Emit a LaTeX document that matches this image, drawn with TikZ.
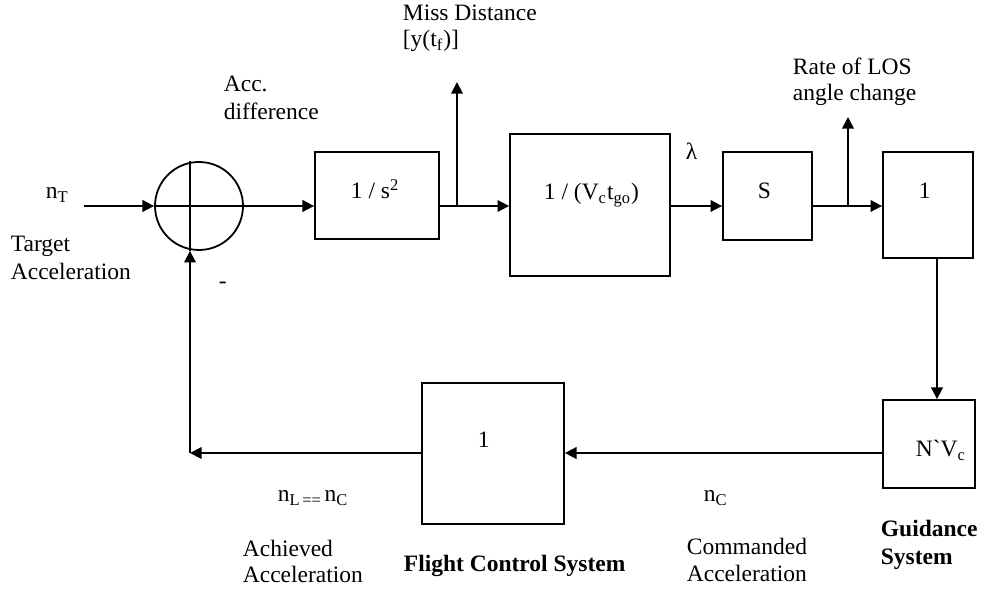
\documentclass[tikz,border=0pt]{standalone}
\usepackage{fontspec}
\setmainfont{Liberation Serif}
\usetikzlibrary{arrows.meta}
\begin{document}
\begin{tikzpicture}[x=0.5bp,y=-0.5bp,
  line width=0.9bp,
  every node/.style={font=\fontsize{11.75bp}{14bp}\selectfont},
  blk/.style={draw,rectangle,inner sep=0pt},
  txt/.style={inner sep=0pt,anchor=base west},
  arr/.style={-{Triangle[length=5.8bp,width=5.8bp]}},
  bold/.style={font=\fontsize{11.75bp}{14bp}\selectfont\bfseries}]
\useasboundingbox (0,0) rectangle (1005,592);
% blocks
\node[draw,circle,minimum size=44bp,inner sep=0pt] (s) at (199,206) {};
\node[blk,minimum width=62bp,minimum height=43.5bp] (b1) at (377,195.5) {};
\node[blk,minimum width=80bp,minimum height=71bp] (b2) at (590,205) {};
\node[blk,minimum width=44.5bp,minimum height=44bp] (bs) at (767.5,196) {};
\node[blk,minimum width=45bp,minimum height=53bp] (bo) at (928,205) {};
\node[blk,minimum width=46bp,minimum height=44bp] (bn) at (929,444) {};
\node[blk,minimum width=71bp,minimum height=70.5bp] (bf) at (493,453.5) {};
% coordinates
\coordinate (in) at (84,206);
\coordinate (m1) at (457,206);
\coordinate (m1t) at (457,82);
\coordinate (m2) at (848,206);
\coordinate (m2t) at (848,117);
\coordinate (dn) at (937,258);
\coordinate (fb) at (190,453);
% summing junction cross
\draw (s.west) -- (s.east);
\draw (s.north -| fb) -- (s.south -| fb);
% connectors
\draw[arr] (in) -- (s.west);
\draw[arr] (s.east) -- (s.east -| b1.west);
\draw (b1.east |- m1) -- (m1);
\draw[arr] (m1) -- (b2.west |- m1);
\draw[arr] (m1) -- (m1t);
\draw[arr] (b2.east |- m2) -- (bs.west |- m2);
\draw (bs.east |- m2) -- (m2);
\draw[arr] (m2) -- (bo.west |- m2);
\draw[arr] (m2) -- (m2t);
\draw[arr] (dn) -- (dn |- bn.north);
\draw[arr] (bn.west |- fb) -- (bf.east |- fb);
\draw[arr] (bf.west |- fb) -- (fb);
\draw[arr] (fb) -- (s.south -| fb);
% texts
\node[txt] (tnt) at (45,199) {n\textsubscript{T}};
\node[txt] (tta) at (10,252) {Target};
\node[txt] (ttb) at (10,280) {Acceleration};
\node[txt] (tad) at (223,92) {Acc.};
\node[txt] (tae) at (223,120) {difference};
\node[txt] (tmd) at (402,21) {Miss Distance};
\node[txt] (tme) at (402,47) {[y(t\textsubscript{f})]};
\node[txt] (tb1) at (350,199) {1 / s\textsuperscript{2}};
\node[txt] (tb2) at (543,200) {1 / (V\textsubscript{c}t\textsubscript{go})};
\node[txt] (tla) at (685,160) {λ};
\node[txt] (tbs) at (757,199) {S};
\node[txt] (tra) at (792,75) {Rate of LOS};
\node[txt] (trb) at (792,101) {angle change};
\node[txt] (tbo) at (918,199) {1};
\node[txt] (tbn) at (915,457) {N\textasciigrave V\textsubscript{c}};
\node[txt] (tbf) at (477,448) {1};
\node[txt] (tmi) at (218,289) {-};
\node[txt] (tnl) at (277,502) {n\textsubscript{L\,==\,}n\textsubscript{C}};
\node[txt] (tac) at (242,557) {Achieved};
\node[txt] (tad2) at (242,583) {Acceleration};
\node[txt,bold] (tfc) at (403,572) {Flight Control System};
\node[txt] (tnc) at (703,502) {n\textsubscript{C}};
\node[txt] (tco) at (686,555) {Commanded};
\node[txt] (tco2) at (686,582) {Acceleration};
\node[txt,bold] (tgu) at (880,537) {Guidance};
\node[txt,bold] (tgs) at (880,565) {System};
\end{tikzpicture}
\end{document}
